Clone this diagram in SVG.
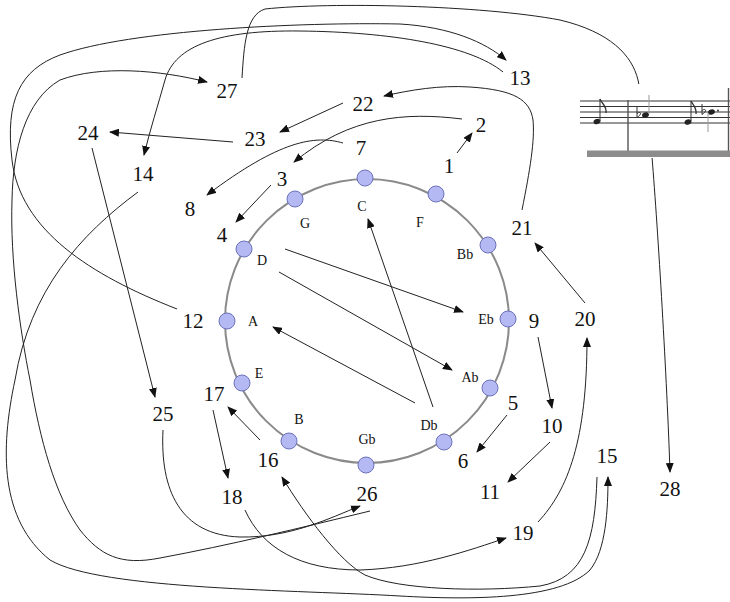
<svg xmlns="http://www.w3.org/2000/svg" width="730" height="602" viewBox="0 0 730 602">
<style>
.num{font-family:'Liberation Serif','Times New Roman',serif;font-size:21px;fill:#111;text-anchor:middle}
.lab{font-family:'Liberation Serif','Times New Roman',serif;font-size:14px;fill:#111;text-anchor:middle}
.a{fill:none;stroke:#222;stroke-width:1;marker-end:url(#ah)}
.node{fill:#b5b9f3;stroke:#6b72ba;stroke-width:1}
.staff{stroke:#333;stroke-width:1.2}
.flat{fill:none;stroke:#333;stroke-width:1}
</style>
<defs>
<marker id="ah" markerUnits="userSpaceOnUse" markerWidth="10" markerHeight="8" refX="9" refY="4" orient="auto">
<path d="M0,0 L10,4 L0,8 z" fill="#111"/>
</marker>
</defs>
<rect width="730" height="602" fill="#fff"/>

<g id="connectors">
<path class="a" d="M457,153 L472,133"/>
<path class="a" d="M462,119 C405,112 350,116 294,162"/>
<path class="a" d="M271,185 L236,222"/>
<path class="a" d="M507,415 L477,452"/>
<path class="a" d="M343,143 C315,135 280,140 207,195"/>
<path class="a" d="M538,337 L552,408"/>
<path class="a" d="M550,442 L508,482"/>
<path class="a" d="M177,309 C90,275 20,230 12,160 C5,100 20,70 60,55 C130,30 300,22 400,24 C450,27 485,42 506,60"/>
<path class="a" d="M503,72 C470,45 390,32 300,31 C220,30 175,45 165,80 C158,105 150,130 144,155"/>
<path class="a" d="M138,192 C80,235 30,290 15,380 C0,450 0,520 50,560 C100,590 300,590 400,596 C470,600 560,600 590,570 C606,550 608,510 608,477"/>
<path class="a" d="M597,477 C595,540 585,578 540,586 C480,592 400,590 365,575 C340,562 305,515 282,477"/>
<path class="a" d="M260,440 L228,407"/>
<path class="a" d="M213,410 L228,478"/>
<path class="a" d="M245,510 C262,548 300,570 360,570 C420,568 470,550 506,538"/>
<path class="a" d="M538,522 C568,490 587,440 587,338"/>
<path class="a" d="M585,303 L535,243"/>
<path class="a" d="M522,210 C530,170 535,140 533,120 C530,100 515,90 470,87 C440,85 410,90 384,96"/>
<path class="a" d="M343,103 L280,132"/>
<path class="a" d="M233,142 L110,132"/>
<path class="a" d="M92,148 L155,397"/>
<path class="a" d="M163,430 C160,490 180,535 240,537 C290,538 330,518 360,506"/>
<path class="a" d="M370,511 C300,528 230,545 160,558 C120,566 100,555 80,530 C55,495 40,440 30,380 C20,330 10,260 12,200 C13,150 25,100 60,80 C100,65 160,70 207,82"/>
<path class="a" d="M242,78 C244,45 246,15 265,9 C330,2 480,5 560,20 C610,32 632,55 638,80 C642,100 648,130 652,157 C658,230 667,380 670,472"/>
<path class="a" d="M285,249 L463,312"/>
<path class="a" d="M279,272 L452,370"/>
<path class="a" d="M415,403 L273,327"/>
<path class="a" d="M433,407 L368,219"/>
</g>

<g id="staff">
<rect x="578" y="84" width="152" height="74" fill="#fff"/>
<line class="staff" x1="580" y1="101" x2="730" y2="101"/>
<line class="staff" x1="580" y1="106.5" x2="730" y2="106.5"/>
<line class="staff" x1="580" y1="112" x2="730" y2="112"/>
<line class="staff" x1="580" y1="117.5" x2="730" y2="117.5"/>
<line class="staff" x1="580" y1="123" x2="730" y2="123"/>
<line x1="628" y1="100" x2="628" y2="151" stroke="#555" stroke-width="1.4"/>
<line x1="728.5" y1="88" x2="728.5" y2="151" stroke="#555" stroke-width="1.4"/>
<rect x="587" y="150.5" width="143" height="6.5" fill="#8c8c8c"/>
<ellipse cx="597" cy="121.5" rx="3.5" ry="2.6" fill="#222" transform="rotate(-20 597 121.5)"/>
<line x1="600" y1="121" x2="600" y2="99" stroke="#333" stroke-width="1"/>
<path d="M600,99 C602,104 607,106 606,113" fill="none" stroke="#333" stroke-width="1.3"/>
<path class="flat" d="M637,107 L637,117.5 C640,115.5 642,113 639.5,112.5 C638.5,112.3 637.5,113 637,114"/>
<ellipse cx="645.5" cy="115" rx="3.5" ry="2.6" fill="#222" transform="rotate(-20 645.5 115)"/>
<line x1="649" y1="95" x2="649" y2="114" stroke="#999" stroke-width="1"/>
<ellipse cx="688" cy="122" rx="3.5" ry="2.6" fill="#222" transform="rotate(-20 688 122)"/>
<line x1="691" y1="121" x2="691" y2="101" stroke="#333" stroke-width="1"/>
<path d="M691,101 C693,105 697,108 696,114" fill="none" stroke="#333" stroke-width="1.3"/>
<path class="flat" d="M702,104 L702,114.5 C705,112.5 707,110 704.5,109.5 C703.5,109.3 702.5,110 702,111"/>
<ellipse cx="711.5" cy="112" rx="3.5" ry="2.6" fill="#222" transform="rotate(-20 711.5 112)"/>
<circle cx="718" cy="110.5" r="0.9" fill="#222"/>
<line x1="708" y1="113" x2="708" y2="132" stroke="#999" stroke-width="1"/>
</g>

<g id="circle">
<circle cx="367" cy="321" r="142" fill="none" stroke="#8a8a8a" stroke-width="2"/>
</g>

<g id="n-C"><circle class="node" cx="365" cy="178" r="8"/><text class="lab" x="362" y="211">C</text></g>
<g id="n-F"><circle class="node" cx="436" cy="194" r="8"/><text class="lab" x="420" y="227">F</text></g>
<g id="n-Bb"><circle class="node" cx="488" cy="245" r="8"/><text class="lab" x="465" y="259">Bb</text></g>
<g id="n-Eb"><circle class="node" cx="508" cy="319" r="8"/><text class="lab" x="486" y="324">Eb</text></g>
<g id="n-Ab"><circle class="node" cx="490" cy="388" r="8"/><text class="lab" x="470" y="382">Ab</text></g>
<g id="n-Db"><circle class="node" cx="444" cy="442" r="8"/><text class="lab" x="429" y="430">Db</text></g>
<g id="n-Gb"><circle class="node" cx="366" cy="465" r="8"/><text class="lab" x="367" y="444">Gb</text></g>
<g id="n-B"><circle class="node" cx="289" cy="441" r="8"/><text class="lab" x="299" y="424">B</text></g>
<g id="n-E"><circle class="node" cx="242" cy="383" r="8"/><text class="lab" x="259" y="378">E</text></g>
<g id="n-A"><circle class="node" cx="227" cy="321" r="8"/><text class="lab" x="253" y="326">A</text></g>
<g id="n-D"><circle class="node" cx="244" cy="249" r="8"/><text class="lab" x="262" y="265">D</text></g>
<g id="n-G"><circle class="node" cx="295" cy="199" r="8"/><text class="lab" x="305" y="228">G</text></g>

<g id="s1"><text class="num" x="449" y="172.5">1</text></g>
<g id="s2"><text class="num" x="481" y="131.5">2</text></g>
<g id="s3"><text class="num" x="282" y="185.5">3</text></g>
<g id="s4"><text class="num" x="222" y="241.5">4</text></g>
<g id="s5"><text class="num" x="513" y="409.5">5</text></g>
<g id="s6"><text class="num" x="463" y="467.5">6</text></g>
<g id="s7"><text class="num" x="361" y="154.5">7</text></g>
<g id="s8"><text class="num" x="190" y="215.5">8</text></g>
<g id="s9"><text class="num" x="534" y="327.5">9</text></g>
<g id="s10"><text class="num" x="552" y="432.5">10</text></g>
<g id="s11"><text class="num" x="490" y="498.5">11</text></g>
<g id="s12"><text class="num" x="193" y="327.5">12</text></g>
<g id="s13"><text class="num" x="520" y="84.5">13</text></g>
<g id="s14"><text class="num" x="143" y="180.5">14</text></g>
<g id="s15"><text class="num" x="607" y="462.5">15</text></g>
<g id="s16"><text class="num" x="268" y="466.5">16</text></g>
<g id="s17"><text class="num" x="214" y="400.5">17</text></g>
<g id="s18"><text class="num" x="232" y="503.5">18</text></g>
<g id="s19"><text class="num" x="523" y="539.5">19</text></g>
<g id="s20"><text class="num" x="585" y="325.5">20</text></g>
<g id="s21"><text class="num" x="522" y="234.5">21</text></g>
<g id="s22"><text class="num" x="363" y="110.5">22</text></g>
<g id="s23"><text class="num" x="255" y="145.5">23</text></g>
<g id="s24"><text class="num" x="88" y="139.5">24</text></g>
<g id="s25"><text class="num" x="163" y="420.5">25</text></g>
<g id="s26"><text class="num" x="367" y="500.5">26</text></g>
<g id="s27"><text class="num" x="227" y="97.5">27</text></g>
<g id="s28"><text class="num" x="670" y="495.5">28</text></g>
</svg>
